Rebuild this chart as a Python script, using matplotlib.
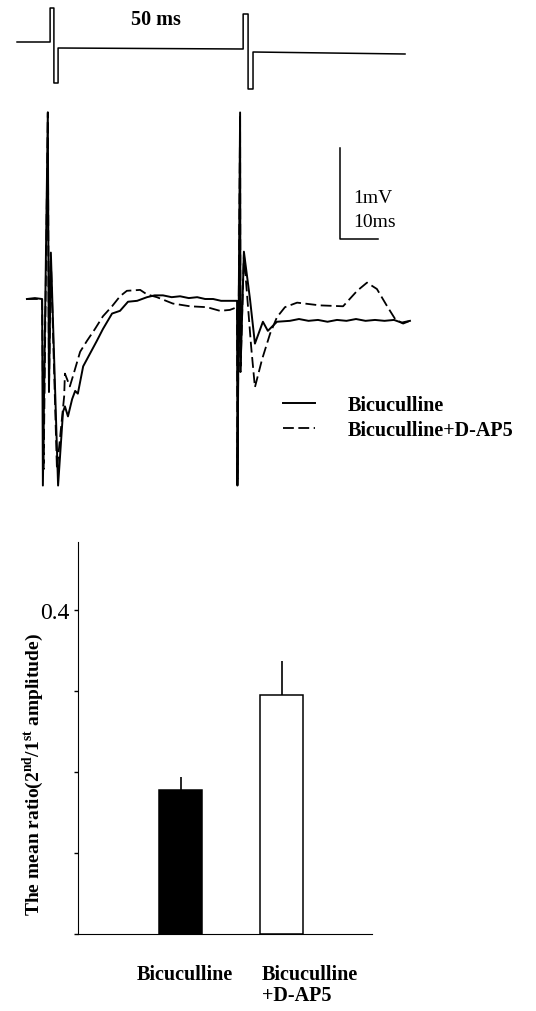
import matplotlib
matplotlib.use('Agg')
import matplotlib.pyplot as plt

plt.rcParams['font.family'] = ['Liberation Serif', 'DejaVu Serif']
plt.rcParams['mathtext.fontset'] = 'custom'
plt.rcParams['mathtext.rm'] = 'Liberation Serif'
plt.rcParams['mathtext.bf'] = 'Liberation Serif:bold'

# Stimulus protocol (paired pulses, 50 ms apart), arbitrary units
stim_t = [-9.2, -0.5, -0.5, 0.5, 0.5, 1.6, 1.6, 50.3, 50.3, 51.6, 51.6, 52.9, 52.9, 92.9]
stim_v = [0, 0, 34, 34, -41, -41, -6, -7, 28, 28, -47, -47, -10, -12]

# Field potential traces (ms, mV)
bic_t = [-6.6, -4.5, -2.6, -2.4, -1.1, -0.8, -0.3, 1.6, 2.9, 3.4, 4.2, 5.3, 6.1, 6.8, 8.2,
         10.0, 11.8, 13.4, 15.8, 17.9, 20.0, 22.4, 25.0, 27.0, 29.2, 31.5, 33.7, 36.0, 38.2,
         40.3, 42.4, 44.5, 46.8, 48.7, 48.8, 49.5, 49.6, 50.5, 52.1, 53.4, 55.5, 56.8, 59.2,
         62.6, 65.0, 67.5, 70.0, 72.5, 75.0, 77.5, 80.0, 82.5, 85.0, 87.5, 90.0, 92.0, 94.2]
bic_v = [0, 0.01, 0, -2.05, 2.05, -1.02, 0.51, -2.05, -1.24, -1.18, -1.29, -1.10, -1.01, -1.04, -0.74,
         -0.60, -0.46, -0.33, -0.16, -0.13, -0.03, -0.02, 0.02, 0.04, 0.04, 0.02, 0.03, 0.01, 0.02,
         0.0, 0.0, -0.02, -0.02, -0.02, -2.05, 2.05, -0.80, 0.52, 0.0, -0.49, -0.25, -0.35, -0.25,
         -0.24, -0.22, -0.24, -0.23, -0.25, -0.23, -0.24, -0.22, -0.24, -0.23, -0.24, -0.23, -0.26, -0.24]

apv_t = [-6.6, -2.6, -2.2, -1.1, -0.8, -0.3, 1.3, 3.2, 3.4, 4.7, 5.5, 7.4, 9.2, 11.3, 13.4,
         15.8, 17.9, 19.7, 23.2, 25.0, 27.6, 31.8, 36.3, 40.8, 44.2, 46.8, 48.7, 48.8, 49.5,
         49.6, 50.5, 52.4, 53.4, 55.3, 57.4, 59.2, 61.3, 64.5, 70.5, 76.6, 80.3, 82.9, 85.5,
         88.2, 90.3, 92.4, 94.2]
apv_v = [0, 0, -1.87, 2.05, -1.02, 0.44, -1.87, -1.07, -0.82, -0.96, -0.85, -0.58, -0.46, -0.33, -0.19,
         -0.08, 0.03, 0.09, 0.10, 0.05, 0.02, -0.05, -0.08, -0.09, -0.13, -0.12, -0.09, -1.98, 2.03,
         -0.80, 0.49, -0.52, -0.97, -0.66, -0.38, -0.20, -0.09, -0.04, -0.07, -0.08, 0.09, 0.18, 0.11,
         -0.08, -0.22, -0.27, -0.24]

# Paired-pulse ratio
groups = ['Bicuculline', 'Bicuculline\n+D-AP5']
ratio = [0.178, 0.295]
ratio_sem = [0.016, 0.042]

W, H = 536, 1012
fig = plt.figure(figsize=(W / 100, H / 100), dpi=100)
fig.patch.set_facecolor('white')

# px -> time/voltage mapping: 3.8 px per ms, 91 px per mV, first pulse at x=52, baseline at y=300
def tlim():
    return ((0 - 52) / 3.8, (W - 52) / 3.8)

# --- stimulus ---
ax_s = fig.add_axes([0, (H - 100) / H, 1, 100 / H])
ax_s.plot(stim_t, stim_v, color='black', lw=1.1)
ax_s.set_xlim(*tlim())
ax_s.set_ylim(-57, 43)
ax_s.text(27.4, 23, '50 ms', ha='center', va='center', fontsize=14.5, fontweight='bold')
ax_s.axis('off')

# --- traces ---
ax_t = fig.add_axes([0, (H - 500) / H, 1, 400 / H])
ax_t.plot(bic_t, bic_v, color='black', lw=1.4, label='Bicuculline')
ax_t.plot(apv_t, apv_v, color='black', lw=1.3, dashes=(6, 2.5), label='Bicuculline+D-AP5')
ax_t.set_xlim(*tlim())
ax_t.set_ylim(-200 / 91, 200 / 91)
ax_t.axis('off')

# scale bar 1 mV / 10 ms
ax_t.plot([75.8, 75.8, 85.8], [1.66, 0.66, 0.66], color='black', lw=1.1)
ax_t.text(79.2, 1.12, '1mV', ha='left', va='center', fontsize=14)
ax_t.text(79.2, 0.85, '10ms', ha='left', va='center', fontsize=14)

ax_t.legend(loc='upper left', bbox_to_anchor=(283 / W, (500 - 396) / 400), frameon=False,
            prop={'weight': 'bold', 'size': 14.5}, handlelength=1.6,
            handletextpad=1.6, labelspacing=0.25, borderpad=0, borderaxespad=0)

# --- bar chart ---
ax_b = fig.add_axes([78 / W, (H - 935) / H, 294 / W, 392 / H])
x = list(range(len(groups)))
ax_b.bar(x, ratio, width=0.42, color=['black', 'white'], edgecolor='black', linewidth=1.1)
ax_b.errorbar(x, ratio, yerr=[[0, 0], ratio_sem], fmt='none', ecolor='black', elinewidth=1.2, capsize=0)
ax_b.set_xlim(-1.015, 1.896)
ax_b.set_ylim(0, 0.484)
ax_b.spines['top'].set_visible(False)
ax_b.spines['right'].set_visible(False)
ax_b.set_xticks([])
ax_b.set_yticks([0, 0.1, 0.2, 0.3, 0.4])
ax_b.set_yticklabels(['', '', '', '', '0.4'], fontsize=17)
ax_b.tick_params(axis='y', direction='out', length=3, width=1, pad=3)
ax_b.set_ylabel('The mean ratio(2$^{\\mathbf{nd}}$/1$^{\\mathbf{st}}$ amplitude)',
                fontsize=14, fontweight='bold')
ax_b.yaxis.set_label_coords(-0.11, 0.41)

xform = ax_b.get_xaxis_transform()
ax_b.text(0.045, -0.077, groups[0], transform=xform, ha='center', va='top',
          fontsize=14.5, fontweight='bold')
ax_b.text(0.807, -0.077, groups[1], transform=xform, ha='left', va='top',
          fontsize=14.5, fontweight='bold', linespacing=1.05)

fig.savefig('out.png', dpi=100)
